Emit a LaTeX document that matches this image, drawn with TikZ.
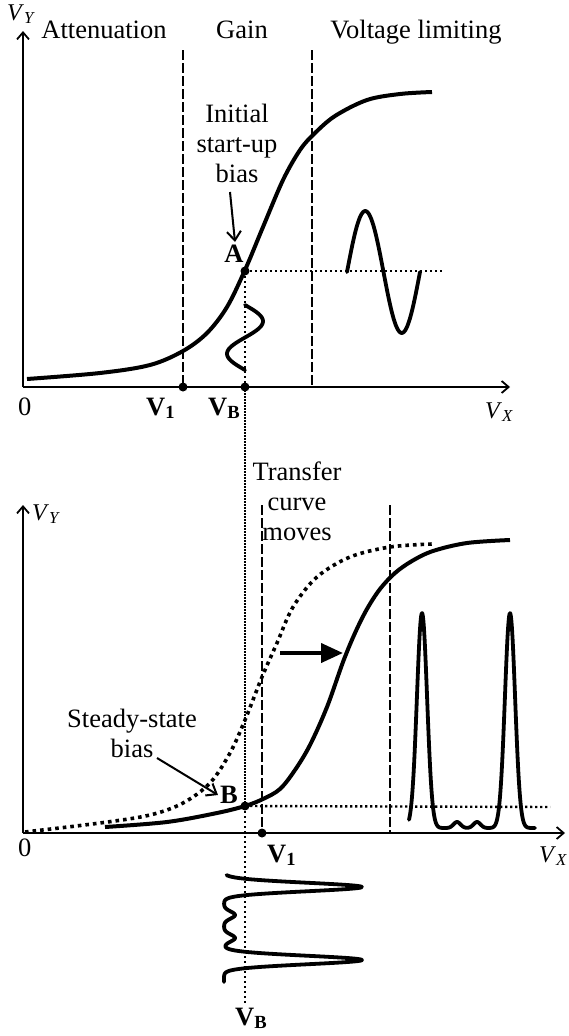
\documentclass[tikz,border=0pt]{standalone}
\usepackage{fontspec}
\setmainfont{Liberation Serif}
\usetikzlibrary{arrows.meta}
\tikzset{
  axisline/.style={line width=2pt,-{Straight Barb[length=7pt,width=12pt,line width=1.8pt]}},
  curveline/.style={line width=4pt},
  dashline/.style={line width=2.4pt,dash pattern=on 10pt off 3pt},
  dotline/.style={line width=2.4pt,dash pattern=on 2.4pt off 2.6pt},
  thindot/.style={line width=1.2pt,dash pattern=on 1.5pt off 1.5pt},
  bigdot/.style={line width=3.6pt,dash pattern=on 3.6pt off 4pt},
  wave/.style={line width=3.8pt,line join=round,line cap=round},
  annarrow/.style={line width=2pt,-{Straight Barb[length=9pt,width=14pt,line width=2pt]}},
  movearrow/.style={line width=4pt,-{Triangle[length=22pt,width=19pt]}},
  lbl/.style={inner sep=0pt,font=\fontsize{26.5}{30}\selectfont},
  axl/.style={inner sep=0pt,font=\fontsize{24}{28}\selectfont},
  blk/.style={circle,fill=black,inner sep=0pt,minimum size=9pt},
}
\begin{document}
\begin{tikzpicture}[x=1pt,y=-1pt]
\useasboundingbox (0,0) rectangle (568,1036);
% ---------------- top panel ----------------
\coordinate (O1) at (23,387);
\coordinate (Y1) at (23,31);
\coordinate (X1) at (510,387);
\draw[axisline] (O1) -- (Y1);
\draw[axisline] (O1) -- (X1);
\node[axl,anchor=base west] (vy1) at (7,20) {\textit{V}\textsubscript{\textit{Y}}};
\node[lbl,anchor=base] (att) at (104,38) {Attenuation};
\node[lbl,anchor=base] (gain) at (242,38) {Gain};
\node[lbl,anchor=base] (volt) at (416,38) {Voltage limiting};
\coordinate (d1t) at (183,50); \coordinate (d1b) at (183,387);
\coordinate (d2t) at (312,50); \coordinate (d2b) at (312,387);
\draw[dashline] (d1t) -- (d1b);
\draw[dashline] (d2t) -- (d2b);
\draw[curveline] plot[smooth,tension=0.55] coordinates {(27,379) (100,373) (150,365) (183,351) (207,333) (227,307) (245,270) (263,227) (283,180) (300,150) (314,134) (335,116) (367,100) (400,94) (432,92)};
\coordinate (Apt) at (245,271);
\coordinate (Ahz) at (443,271);
\coordinate (VBa) at (245,387);
\draw[dotline] (Apt) -- (Ahz);
\draw[dotline] (Apt) -- (VBa);
% small input wave
\draw[wave] plot[domain=305:370,samples=60,variable=\t] ({245+18*sin((\t-305)*5.5385)},{\t});
% big output wave
\draw[wave] plot[domain=347:420,samples=70,variable=\t] ({\t},{272-61*sin((\t-347)*4.9315)});
\node[lbl,align=center] (init) at (237,143) {Initial\\start-up\\bias};
\node[lbl,font=\fontsize{26.5}{30}\selectfont\bfseries] (A) at (234,254) {A};
\coordinate (ia) at (230,192);
\coordinate (ib) at (235,242);
\draw[annarrow] (ia) -- (ib);
\node[blk] (dA) at (Apt) {};
\node[blk] (dV1) at (d1b) {};
\node[blk] (dVB) at (VBa) {};
\node[lbl,anchor=base west] (z1) at (18,415) {0};
\node[lbl,anchor=base west] (v11) at (146,415) {\textbf{V\textsubscript{1}}};
\node[lbl,anchor=base west] (vb1) at (208,415) {\textbf{V\textsubscript{B}}};
\node[axl,anchor=base west] (vx1) at (485,418) {\textit{V}\textsubscript{\textit{X}}};
% connecting V_B line
\coordinate (Bpt) at (245,806);
\coordinate (VBend) at (245,1003);
\draw[thindot] (VBa) -- (Bpt);
% ---------------- bottom panel ----------------
\coordinate (O2) at (23,833);
\coordinate (Y2) at (23,505);
\coordinate (X2) at (565,833);
\draw[axisline] (O2) -- (Y2);
\draw[axisline] (O2) -- (X2);
\node[axl,anchor=base west] (vy2) at (32,520) {\textit{V}\textsubscript{\textit{Y}}};
\node[lbl,align=center] (tcm) at (297,501) {Transfer\\curve\\moves};
\coordinate (e1t) at (262,505); \coordinate (e1b) at (262,833);
\coordinate (e2t) at (390,505); \coordinate (e2b) at (390,833);
\draw[dashline] (e1t) -- (e1b);
\draw[dashline] (e2t) -- (e2b);
\draw[bigdot] plot[smooth,tension=0.55] coordinates {(25,832) (100,823) (150,815) (183,803) (210,783) (230,753) (245,720) (262,677) (277,643) (293,607) (317,577) (350,557) (390,547) (432,544)};
\draw[curveline] plot[smooth,tension=0.55] coordinates {(105,827) (167,822) (217,813) (245,806) (263,799) (280,789) (295,770) (310,745) (327,707) (343,662) (355,633) (367,609) (380,589) (395,573) (412,561) (433,551) (467,543) (510,540)};
\coordinate (Bhz) at (550,807);
\draw[dotline] (Bpt) -- (Bhz);
\draw[dotline] (Bpt) -- (VBend);
% output pulses
\draw[wave] plot[domain=409:535,samples=220,variable=\t] ({\t},{828-215*(exp(-min(((\t-422)/7.2)^2,20))+exp(-min(((\t-510)/7.2)^2,20)))-6*exp(-min(((\t-457)/5)^2,20))-6*exp(-min(((\t-477)/5)^2,20))});
% input wave (rotated)
\draw[wave] plot[domain=875:982,samples=220,variable=\t] ({224+138*(exp(-min(((\t-887)/6)^2,20))+exp(-min(((\t-960)/6)^2,20)))+11*exp(-min(((\t-915)/5)^2,20))+11*exp(-min(((\t-938)/5)^2,20))},{\t});
\coordinate (ma) at (280,653);
\coordinate (mb) at (343,653);
\draw[movearrow] (ma) -- (mb);
\node[lbl,align=center] (ssb) at (132,733) {Steady-state\\bias};
\coordinate (sa) at (157,758);
\coordinate (sb) at (218,795);
\draw[annarrow] (sa) -- (sb);
\node[lbl,font=\fontsize{26.5}{30}\selectfont\bfseries] (B) at (229,795) {B};
\node[blk] (dB) at (Bpt) {};
\node[blk] (dV1b) at (e1b) {};
\node[lbl,anchor=base west] (z2) at (18,856) {0};
\node[lbl,anchor=base west] (v12) at (267,862) {\textbf{V\textsubscript{1}}};
\node[axl,anchor=base west] (vx2) at (539,862) {\textit{V}\textsubscript{\textit{X}}};
\node[lbl,anchor=base west] (vb2) at (235,1025) {\textbf{V\textsubscript{B}}};
\end{tikzpicture}
\end{document}
